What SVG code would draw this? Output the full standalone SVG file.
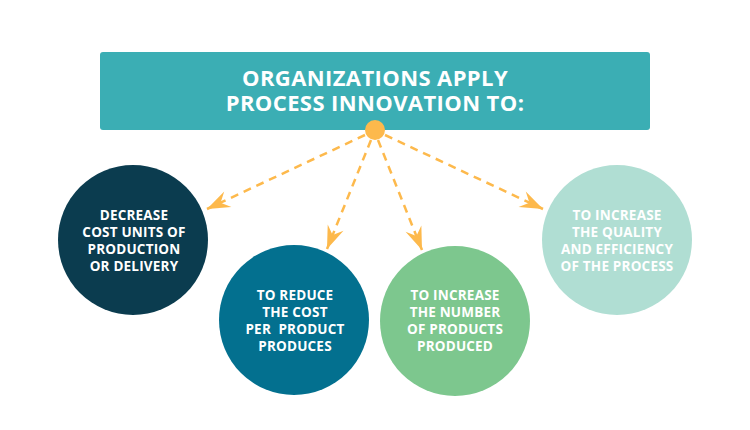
<svg xmlns="http://www.w3.org/2000/svg" width="750" height="430" viewBox="0 0 750 430">
<style>
.t{font-family:"Open Sans","Liberation Sans",sans-serif;font-weight:bold;fill:#fff;text-anchor:middle}
.title{font-size:22px;letter-spacing:0.4px}
.c{font-size:13.5px;letter-spacing:0.2px}
.arr{fill:none;stroke:#FDB94C;stroke-width:2.5;stroke-dasharray:8 6}
</style>
<defs>
<marker id="ah" markerUnits="userSpaceOnUse" viewBox="-24 -10 26 20" refX="0" refY="0" markerWidth="26" markerHeight="20" orient="auto">
<path d="M0,0 L-23,-8.5 L-15,0 L-23,8.5 Z" fill="#FDB94C"/>
</marker>
</defs>
<rect width="750" height="430" fill="#fff"/>
<g id="banner">
<rect x="100" y="52" width="550" height="78" rx="3" fill="#3BAEB4"/>
<text class="t title" x="375" y="86">ORGANIZATIONS APPLY</text>
<text class="t title" x="375" y="111">PROCESS INNOVATION TO:</text>
</g>
<g id="connectors">
<path class="arr" d="M365,135 L207,209" marker-end="url(#ah)"/>
<path class="arr" d="M371,140 L327,249" marker-end="url(#ah)"/>
<path class="arr" d="M378,140 L422,250" marker-end="url(#ah)"/>
<path class="arr" d="M385,135 L543,209" marker-end="url(#ah)"/>
</g>
<g id="hub">
<circle cx="375" cy="130" r="10" fill="#FDB94C"/>
</g>
<g id="node1">
<circle cx="133" cy="240" r="75" fill="#0B3C4F"/>
<text class="t c" x="134" y="220">DECREASE</text>
<text class="t c" x="134" y="237">COST UNITS OF</text>
<text class="t c" x="134" y="254">PRODUCTION</text>
<text class="t c" x="134" y="271">OR DELIVERY</text>
</g>
<g id="node2">
<circle cx="294" cy="320" r="75" fill="#03708F"/>
<text class="t c" x="295" y="300">TO REDUCE</text>
<text class="t c" x="295" y="317">THE COST</text>
<text class="t c" x="295" y="334" xml:space="preserve">PER  PRODUCT</text>
<text class="t c" x="295" y="351">PRODUCES</text>
</g>
<g id="node3">
<circle cx="455" cy="321" r="75" fill="#7DC78E"/>
<text class="t c" x="455" y="300">TO INCREASE</text>
<text class="t c" x="455" y="317">THE NUMBER</text>
<text class="t c" x="455" y="334">OF PRODUCTS</text>
<text class="t c" x="455" y="351">PRODUCED</text>
</g>
<g id="node4">
<circle cx="617" cy="240" r="75" fill="#B0DED3"/>
<text class="t c" x="617" y="220">TO INCREASE</text>
<text class="t c" x="617" y="237">THE QUALITY</text>
<text class="t c" x="617" y="254">AND EFFICIENCY</text>
<text class="t c" x="617" y="271">OF THE PROCESS</text>
</g>
</svg>
